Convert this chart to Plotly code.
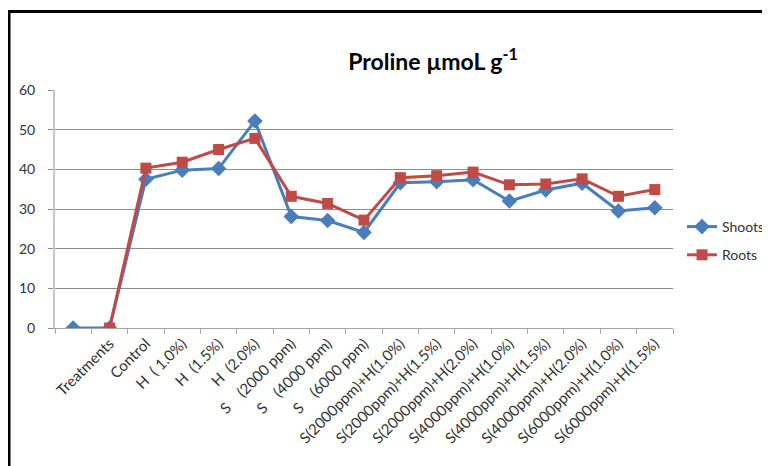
import plotly.graph_objects as go

categories = [" ", "Treatments", "Control", "H\u00a0\u00a0( 1.0%)", "H\u00a0\u00a0(1.5%)", "H\u00a0\u00a0(2.0%)",
              "S\u00a0\u00a0\u00a0\u00a0(2000 ppm)", "S\u00a0\u00a0\u00a0\u00a0(4000 ppm)", "S\u00a0\u00a0\u00a0\u00a0(6000 ppm)",
              "S(2000ppm)+H(1.0%)", "S(2000ppm)+H(1.5%)", "S(2000ppm)+H(2.0%)",
              "S(4000ppm)+H(1.0%)", "S(4000ppm)+H(1.5%)", "S(4000ppm)+H(2.0%)",
              "S(6000ppm)+H(1.0%)", "S(6000ppm)+H(1.5%)"]
shoots = [0, 0, 37.5, 39.8, 40.2, 52.2, 28.1, 27.1, 24.1, 36.6, 36.9, 37.4, 32.0, 34.8, 36.5, 29.5, 30.3]
roots = [None, 0, 40.3, 41.8, 45.0, 47.8, 33.2, 31.4, 27.2, 37.9, 38.4, 39.3, 36.1, 36.3, 37.6, 33.2, 34.9]
y_ticks = [0, 10, 20, 30, 40, 50, 60]

BLUE = "#4A7EBB"
RED = "#BE4B48"
FONT = "Lato, Carlito, 'Liberation Sans', sans-serif"

# the page body adds an 8px offset; lay the figure out in page pixels minus 8
OFF = 8
W, H = 770 - OFF, 466 - OFF
L, T = 55 - OFF, 90 - OFF
PW, PH = 618, 238
R, B = W - L - PW, H - T - PH

fig = go.Figure()
fig.add_trace(go.Scatter(x=categories, y=shoots, name="Shoots", mode="lines+markers",
                         line=dict(color=BLUE, width=3),
                         marker=dict(symbol="diamond", size=12, color=BLUE),
                         legendgroup="a"))
fig.add_trace(go.Scatter(x=categories, y=roots, name="Roots", mode="lines+markers",
                         line=dict(color=RED, width=3),
                         marker=dict(symbol="square", size=11, color=RED),
                         legendgroup="b"))

fig.update_layout(
    width=W, height=H,
    margin=dict(l=L, r=R, t=T, b=B, autoexpand=False),
    paper_bgcolor="white", plot_bgcolor="white",
    font=dict(family=FONT, color="#333333", size=13),
    title=dict(text="<b>Proline µmoL g<sup>-1</sup></b>", x=(433 - OFF)/W, xanchor="center",
               y=1 - (62 - OFF)/H, yanchor="middle", yref="container",
               font=dict(family=FONT, size=23, color="#000000")),
    legend=dict(x=(682 - 55)/PW, xanchor="left", y=(328 - 241)/PH, yanchor="middle",
                font=dict(family=FONT, size=14, color="#333333"),
                tracegroupgap=7, traceorder="grouped", itemwidth=30,
                bgcolor="rgba(0,0,0,0)"),
    showlegend=True,
)
fig.update_xaxes(type="category", showgrid=False, showline=True, linecolor="#A6A6A6", linewidth=1,
                 ticks="outside", tickson="boundaries", ticklen=5, tickcolor="#A6A6A6",
                 tickangle=-45, tickfont=dict(size=15, color="#333333"), range=[-0.5, 16.5],
                 automargin=False)
fig.update_yaxes(range=[0, 60], tickvals=y_ticks, showgrid=True, gridcolor="#8C8C8C", gridwidth=1,
                 showline=True, linecolor="#C8C8C8", linewidth=2, ticks="outside", ticklen=5,
                 tickcolor="#8C8C8C", zeroline=False, tickfont=dict(size=14, color="#333333"),
                 ticklabelstandoff=10, automargin=False)

# outer chart border
fig.add_shape(type="rect", xref="paper", yref="paper",
              x0=(9 - 55)/PW, x1=1.3, y0=-0.8, y1=1 + (90 - 11.5)/PH,
              line=dict(color="black", width=3), fillcolor="rgba(0,0,0,0)", layer="below")

fig.write_html("out.html")
